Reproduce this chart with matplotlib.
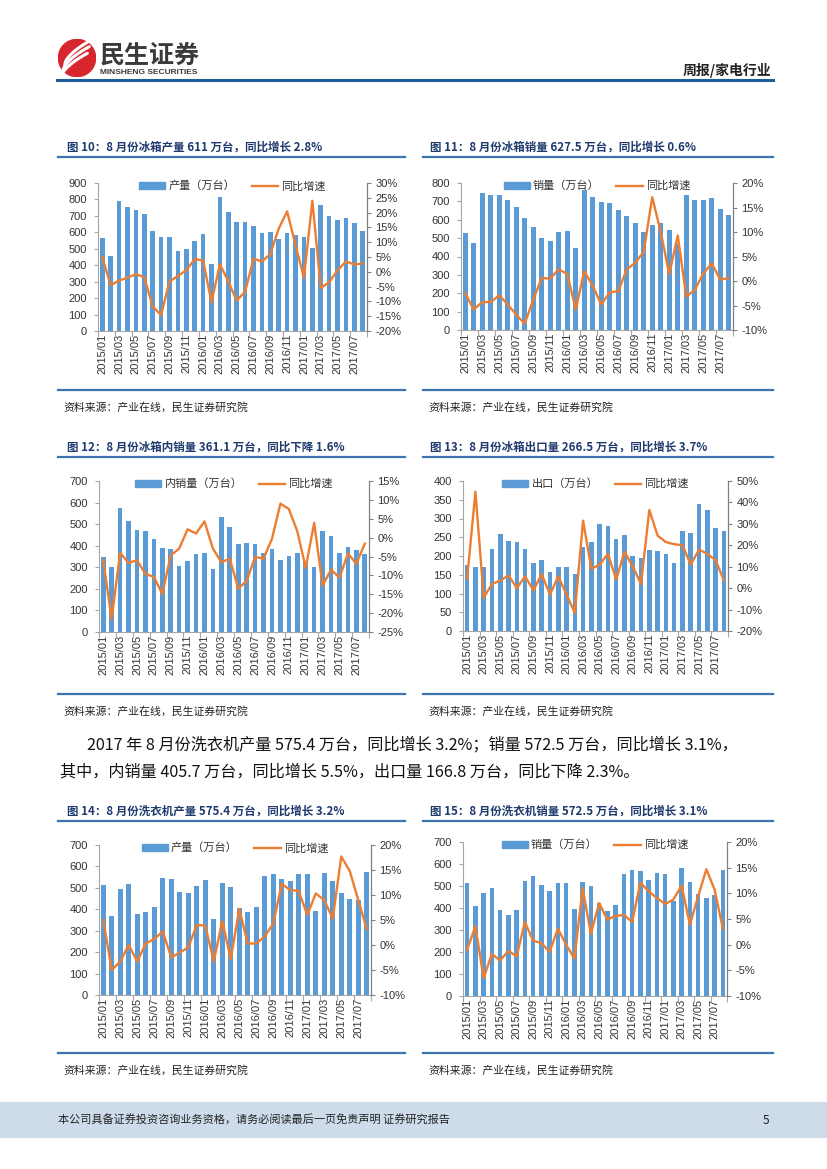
import matplotlib
matplotlib.use('Agg')
import matplotlib.pyplot as plt
from matplotlib.patches import Rectangle, Circle, Patch
from matplotlib.lines import Line2D
from matplotlib.ticker import FuncFormatter
import numpy as np

plt.rcParams['font.family'] = ['Noto Sans CJK SC', 'DejaVu Sans']

# ---------------- data ----------------
months = ['2015/01', '2015/02', '2015/03', '2015/04', '2015/05', '2015/06', '2015/07', '2015/08',
          '2015/09', '2015/10', '2015/11', '2015/12', '2016/01', '2016/02', '2016/03', '2016/04',
          '2016/05', '2016/06', '2016/07', '2016/08', '2016/09', '2016/10', '2016/11', '2016/12',
          '2017/01', '2017/02', '2017/03', '2017/04', '2017/05', '2017/06', '2017/07', '2017/08']

fridge_prod = [565, 455, 790, 755, 738, 710, 608, 572, 572, 488, 497, 548, 590, 408, 812, 723,
               665, 663, 637, 594, 605, 560, 596, 585, 572, 505, 765, 698, 672, 688, 654, 611]
fridge_prod_yoy = [5.0, -4.5, -3.0, -2.0, -0.8, -1.8, -11.7, -14.6, -3.3, -1.4, 0.5, 4.3, 3.8, -10.3, 2.6, -3.3,
                   -9.7, -6.7, 4.4, 3.5, 6.0, 14.6, 20.4, 9.0, -2.0, 24.0, -5.5, -3.5, 0.5, 3.5, 2.5, 2.8]

fridge_sales = [528, 472, 743, 732, 735, 708, 670, 607, 563, 498, 487, 535, 537, 445, 760, 725,
                697, 692, 655, 623, 584, 532, 571, 584, 542, 470, 735, 708, 705, 718, 657, 627.5]
fridge_sales_yoy = [-2.5, -5.8, -4.3, -4.3, -2.9, -4.8, -6.9, -8.7, -3.8, 0.6, 0.5, 2.4, 1.4, -5.8, 2.0, -1.0,
                    -4.8, -2.3, -2.1, 2.4, 3.7, 6.0, 17.1, 10.0, 1.4, 9.3, -3.2, -1.8, 1.5, 3.6, 0.3, 0.6]

fridge_dom = [350, 300, 575, 515, 475, 467, 432, 388, 383, 308, 330, 363, 367, 292, 535, 487,
              410, 412, 410, 365, 383, 336, 353, 368, 330, 303, 467, 446, 367, 393, 380, 361.1]
fridge_dom_yoy = [-6.0, -21.5, -4.0, -6.7, -6.0, -9.6, -10.4, -14.9, -4.7, -2.9, 2.2, 1.1, 4.3, -2.9, -6.5, -5.6,
                  -13.5, -11.5, -5.1, -5.6, -0.3, 9.0, 7.6, 1.7, -8.0, 3.9, -12.7, -8.5, -10.6, -4.2, -6.9, -1.6]

fridge_exp = [177, 172, 170, 218, 258, 241, 238, 219, 182, 190, 157, 171, 170, 151, 224, 238,
              286, 280, 246, 257, 201, 195, 216, 214, 206, 182, 268, 262, 338, 324, 275, 266.5]
fridge_exp_yoy = [4.5, 45.0, -4.5, 2.0, 3.5, 6.0, 0.0, 5.5, -1.0, 6.5, -3.0, 5.5, -3.0, -11.5, 31.5, 9.0,
                  11.0, 16.0, 4.0, 17.0, 10.0, 2.0, 36.5, 24.5, 21.5, 20.5, 20.0, 11.0, 18.0, 16.0, 13.0, 3.7]

wash_prod = [515, 368, 497, 518, 377, 386, 410, 548, 541, 479, 477, 510, 535, 356, 522, 503,
             405, 389, 412, 556, 563, 540, 530, 563, 567, 393, 570, 530, 478, 447, 445, 575.4]
wash_prod_yoy = [5.0, -5.0, -3.3, 0.0, -3.3, 0.3, 1.2, 2.7, -2.5, -1.5, -0.5, 4.0, 3.9, -3.3, 4.8, -2.8,
                 7.2, 0.3, 0.3, 1.7, 4.3, 12.2, 11.0, 10.8, 6.0, 10.3, 9.0, 5.3, 17.7, 14.8, 9.0, 3.2]

wash_sales = [513, 408, 466, 491, 392, 370, 390, 523, 547, 506, 476, 513, 513, 396, 519, 501,
              425, 387, 413, 554, 573, 569, 528, 560, 554, 430, 582, 520, 465, 445, 458, 572.5]
wash_sales_yoy = [-1.0, 3.6, -6.5, -1.8, -3.1, -1.2, -2.3, 4.4, 0.8, 0.3, -1.4, 3.1, 0.0, -2.7, 11.0, 2.1,
                  8.1, 4.9, 5.6, 5.8, 4.4, 12.1, 10.4, 9.1, 7.9, 8.8, 11.5, 3.9, 9.4, 14.7, 10.7, 3.1]

titles = ['图 10：8 月份冰箱产量 611 万台，同比增长 2.8%',
          '图 11：8 月份冰箱销量 627.5 万台，同比增长 0.6%',
          '图 12：8 月份冰箱内销量 361.1 万台，同比下降 1.6%',
          '图 13：8 月份冰箱出口量 266.5 万台，同比增长 3.7%',
          '图 14：8 月份洗衣机产量 575.4 万台，同比增长 3.2%',
          '图 15：8 月份洗衣机销量 572.5 万台，同比增长 3.1%']
bar_labels = ['产量（万台）', '销量（万台）', '内销量（万台）', '出口（万台）', '产量（万台）', '销量（万台）']
line_label = '同比增速'
source = '资料来源：产业在线，民生证券研究院'

# ---------------- figure ----------------
W, H = 827, 1169
fig = plt.figure(figsize=(8.27, 11.69), dpi=100)

def fx(x):
    return x / W

def fy(y):
    return 1 - y / H

BAR = '#5B9BD5'
LINE = '#ED7D31'
NAVY = '#1F3A6E'
RULE = '#3F75AE'
TXT = '#333333'
NUMFONT = ['Liberation Sans', 'DejaVu Sans']

def hline(x0, x1, y, color, lw):
    fig.add_artist(Line2D([fx(x0), fx(x1)], [fy(y), fy(y)], color=color, lw=lw,
                          transform=fig.transFigure))

# header
lax = fig.add_axes([fx(58), fy(77), 38 / W, 38 / H])
lax.set_xlim(-1, 1); lax.set_ylim(-1, 1); lax.axis('off')
lax.add_patch(Circle((0, 0), 0.98, color='#D8262E'))
t = np.linspace(0, 1, 30)
for off in [-0.35, 0.0, 0.35]:
    xs = -0.75 + 1.4 * t + off * 0.3
    ys = -0.7 + 1.3 * t ** 0.6 + off
    lax.plot(xs, ys, color='white', lw=2.2, solid_capstyle='round')
fig.text(fx(100), fy(56), '民生证券', fontsize=18, fontweight='bold', color='#3A3A3A', va='center')
fig.text(fx(100), fy(72), 'MINSHENG SECURITIES', fontsize=6, fontweight='bold', color='#3A3A3A',
         va='center', family=NUMFONT)
fig.text(fx(771), fy(70), '周报/家电行业', fontsize=10, fontweight='bold', color='#222222',
         ha='right', va='center')
hline(57, 773, 80, '#1F5C99', 2.2)

# footer
fig.add_artist(Rectangle((0, fy(1137)), 1, (1137 - 1102) / H, transform=fig.transFigure,
                         color='#CDDBEA', zorder=0))
fig.text(fx(58), fy(1120), '本公司具备证券投资咨询业务资格，请务必阅读最后一页免责声明 证券研究报告',
         fontsize=8, color='#222222', va='center')
fig.text(fx(769), fy(1120), '5', fontsize=8.5, color='#222222', va='center', ha='right')

# paragraph
fig.text(fx(87), fy(745), '2017 年 8 月份洗衣机产量 575.4 万台，同比增长 3.2%；销量 572.5 万台，同比增长 3.1%，',
         fontsize=11.6, color='#111111', va='center')
fig.text(fx(60), fy(772), '其中，内销量 405.7 万台，同比增长 5.5%，出口量 166.8 万台，同比下降 2.3%。',
         fontsize=11.6, color='#111111', va='center')

def pct(v, p):
    return f'{v:.0f}%'

def chart(box, vals, yoy, ymax, ystep, rmin, rmax, rstep, blabel, title, tx, ty, rule_x, sep_y, src_y):
    x0, yt, x1, yb = box
    ax = fig.add_axes([fx(x0), fy(yb), (x1 - x0) / W, (yb - yt) / H])
    x = np.arange(len(months))
    ax.bar(x, vals, width=0.55, color=BAR, zorder=2)
    ax.set_xlim(-0.5, len(months) - 0.5)
    ax.set_ylim(0, ymax)
    ax.set_yticks(np.arange(0, ymax + 1, ystep))
    ax.set_xticks(x[::2])
    ax.set_xticklabels(months[::2], rotation=90, family=NUMFONT, fontsize=8, color=TXT)
    ax.set_xticks(np.arange(-0.5, len(months), 2), minor=True)
    ax.tick_params(axis='x', which='major', length=0, pad=2)
    ax.tick_params(axis='x', which='minor', length=4, color='#A6A6A6', width=0.8)
    ax.tick_params(axis='y', length=3, color='#A6A6A6', width=0.8, pad=5, labelsize=8, labelcolor=TXT)
    for lab in ax.get_yticklabels():
        lab.set_family(NUMFONT)
    for s in ['top', 'right']:
        ax.spines[s].set_visible(False)
    for s in ['left', 'bottom']:
        ax.spines[s].set_color('#A6A6A6')
        ax.spines[s].set_linewidth(0.8)
    ax2 = ax.twinx()
    ax2.plot(x, yoy, color=LINE, lw=1.7, zorder=3)
    ax2.set_ylim(rmin, rmax)
    ax2.set_yticks(np.arange(rmin, rmax + 0.1, rstep))
    ax2.yaxis.set_major_formatter(FuncFormatter(pct))
    ax2.tick_params(axis='y', length=3, color='#808080', width=0.8, pad=3, labelsize=8, labelcolor=TXT)
    for lab in ax2.get_yticklabels():
        lab.set_family(NUMFONT)
    for s in ['top', 'left', 'bottom']:
        ax2.spines[s].set_visible(False)
    ax2.spines['right'].set_color('#808080')
    ax2.spines['right'].set_linewidth(0.9)
    handles = [Patch(color=BAR), Line2D([0], [0], color=LINE, lw=1.7)]
    ax2.legend(handles, [blabel, line_label], loc='center', bbox_to_anchor=(0.5, 1 - 3.0 / (yb - yt)),
               ncol=2, frameon=False, fontsize=8, handlelength=2.35, handleheight=0.5,
               handletextpad=0.3, columnspacing=1.5, borderpad=0, labelcolor=TXT)
    # title, rules, source
    fig.text(fx(tx), fy(ty), title, fontsize=8.3, fontweight='bold', color=NAVY, va='center')
    hline(rule_x[0], rule_x[1], ty + 10, RULE, 1.6)
    hline(rule_x[0], rule_x[1], sep_y, RULE, 1.6)
    fig.text(fx(rule_x[0] + 5), fy(src_y), source, fontsize=7.8, color='#222222', va='center')

LX = (58, 405)
RX = (423, 773)
chart((98, 183, 367, 331), fridge_prod, fridge_prod_yoy, 900, 100, -20, 30, 5, bar_labels[0], titles[0],
      67, 147, LX, 390, 407)
chart((461, 183, 733, 330), fridge_sales, fridge_sales_yoy, 800, 100, -10, 20, 5, bar_labels[1], titles[1],
      430, 147, RX, 390, 407)
chart((99, 481, 369, 632), fridge_dom, fridge_dom_yoy, 700, 100, -25, 15, 5, bar_labels[2], titles[2],
      67, 447, LX, 694, 711)
chart((463, 481, 728, 631), fridge_exp, fridge_exp_yoy, 400, 50, -20, 50, 10, bar_labels[3], titles[3],
      430, 447, RX, 694, 711)
chart((99, 845, 371, 995), wash_prod, wash_prod_yoy, 700, 100, -10, 20, 5, bar_labels[4], titles[4],
      67, 811, LX, 1053, 1070)
chart((463, 842, 727, 996), wash_sales, wash_sales_yoy, 700, 100, -10, 20, 5, bar_labels[5], titles[5],
      430, 811, RX, 1053, 1070)

fig.savefig('out.png', dpi=100)
